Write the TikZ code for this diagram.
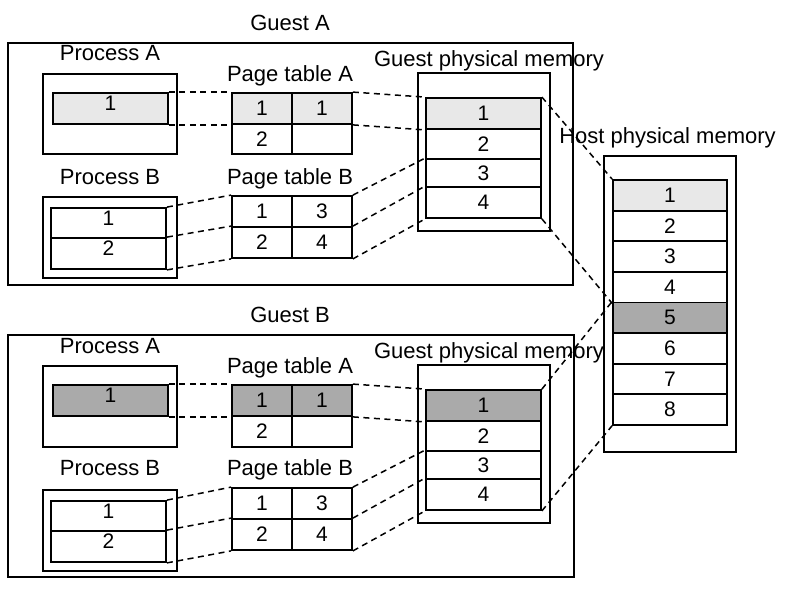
\documentclass[tikz,border=0pt]{standalone}
\usepackage{fontspec}
\setmainfont{Liberation Sans}
\usepackage{xcolor}
\usepackage{tikz}

\definecolor{pagelight}{HTML}{E8E8E8}
\definecolor{pagedark}{HTML}{AAAAAA}

\begin{document}
\begin{tikzpicture}[x=1pt,y=1pt,yscale=-1,xscale=1,
  title/.style={font=\fontsize{22}{26}\selectfont, inner sep=0.75pt, anchor=base},
  frame/.style={draw, line width=1.8pt, inner sep=0pt},
  cell/.style={draw, line width=1.8pt, inner sep=0pt, font=\fontsize{21}{24}\selectfont},
  pcell/.style={cell, text depth=10pt},
  map/.style={dash pattern={on 6pt off 4.5pt}, line width=1.5pt}]
\useasboundingbox (0,0) rectangle (791,604);

%% ---------- Guest A ----------
\node[frame, minimum width=565, minimum height=242] (guestA) at (290.5,164) {};
\node[title] (guestAlbl) at (290,31) {Guest A};

% Process A
\node[title] (pAAlbl) at (110,61) {Process A};
\node[frame, minimum width=134, minimum height=80] (pAA) at (110,114) {};
\node[pcell, fill=pagelight, minimum width=115, minimum height=31] (pAA1) at (110.5,108.5) {1};

% Page table A
\node[title] (ptAAlbl) at (290,82) {Page table A};
\node[cell, fill=pagelight, minimum width=60, minimum height=31] (ptAA1l) at (262,108.5) {1};
\node[cell, fill=pagelight, minimum width=60, minimum height=31] (ptAA1r) at (322,108.5) {1};
\node[cell, minimum width=60, minimum height=30] (ptAA2l) at (262,139) {2};
\node[cell, minimum width=60, minimum height=30] (ptAA2r) at (322,139) {};

% Process B
\node[title] (pABlbl) at (110,184) {Process B};
\node[frame, minimum width=134, minimum height=81] (pAB) at (110,237.5) {};
\node[pcell, minimum width=115, minimum height=30] (pAB1) at (108.5,223) {1};
\node[pcell, minimum width=115, minimum height=31] (pAB2) at (108.5,253.5) {2};

% Page table B
\node[title] (ptABlbl) at (290,184) {Page table B};
\node[cell, minimum width=60, minimum height=31] (ptAB1l) at (262,211.5) {1};
\node[cell, minimum width=60, minimum height=31] (ptAB1r) at (322,211.5) {3};
\node[cell, minimum width=60, minimum height=31] (ptAB2l) at (262,242.5) {2};
\node[cell, minimum width=60, minimum height=31] (ptAB2r) at (322,242.5) {4};

% Guest physical memory
\node[title] (gmAlbl) at (489,67) {Guest physical memory};
\node[frame, minimum width=132, minimum height=158] (gmA) at (484,152) {};
\node[cell, fill=pagelight, minimum width=115, minimum height=31] (gmA1) at (483.5,113.5) {1};
\node[cell, minimum width=115, minimum height=30] (gmA2) at (483.5,144) {2};
\node[cell, minimum width=115, minimum height=28] (gmA3) at (483.5,173) {3};
\node[cell, minimum width=115, minimum height=31] (gmA4) at (483.5,202.5) {4};

%% ---------- Guest B ----------
\node[frame, minimum width=566, minimum height=242] (guestB) at (291,456) {};
\node[title] (guestBlbl) at (290,322) {Guest B};

% Process A
\node[title] (pBAlbl) at (110,353) {Process A};
\node[frame, minimum width=134, minimum height=81] (pBA) at (110,406.5) {};
\node[pcell, fill=pagedark, minimum width=115, minimum height=31] (pBA1) at (110.5,400.5) {1};

% Page table A
\node[title] (ptBAlbl) at (290,373) {Page table A};
\node[cell, fill=pagedark, minimum width=60, minimum height=31] (ptBA1l) at (262,400.5) {1};
\node[cell, fill=pagedark, minimum width=60, minimum height=31] (ptBA1r) at (322,400.5) {1};
\node[cell, minimum width=60, minimum height=31] (ptBA2l) at (262,431.5) {2};
\node[cell, minimum width=60, minimum height=31] (ptBA2r) at (322,431.5) {};

% Process B
\node[title] (pBBlbl) at (110,475) {Process B};
\node[frame, minimum width=134, minimum height=81] (pBB) at (110,530.5) {};
\node[pcell, minimum width=115, minimum height=30] (pBB1) at (108.5,516) {1};
\node[pcell, minimum width=115, minimum height=31] (pBB2) at (108.5,546.5) {2};

% Page table B
\node[title] (ptBBlbl) at (290,475) {Page table B};
\node[cell, minimum width=60, minimum height=31] (ptBB1l) at (262,503.5) {1};
\node[cell, minimum width=60, minimum height=31] (ptBB1r) at (322,503.5) {3};
\node[cell, minimum width=60, minimum height=31] (ptBB2l) at (262,534.5) {2};
\node[cell, minimum width=60, minimum height=31] (ptBB2r) at (322,534.5) {4};

% Guest physical memory
\node[title] (gmBlbl) at (489,358) {Guest physical memory};
\node[frame, minimum width=132, minimum height=158] (gmB) at (484,444) {};
\node[cell, fill=pagedark, minimum width=115, minimum height=31] (gmB1) at (483.5,405.5) {1};
\node[cell, minimum width=115, minimum height=30] (gmB2) at (483.5,436) {2};
\node[cell, minimum width=115, minimum height=28] (gmB3) at (483.5,465) {3};
\node[cell, minimum width=115, minimum height=31] (gmB4) at (483.5,494.5) {4};

%% ---------- Host ----------
\node[frame, minimum width=132, minimum height=296] (host) at (670,304) {};
\foreach \i/\c in {1/pagelight,2/white,3/white,4/white,5/pagedark,6/white,7/white,8/white}
  \node[cell, fill=\c, minimum width=114, minimum height=30.6] (host\i) at (670,{164.7+\i*30.6}) {\i};
\node[title] (hostlbl) at (667.5,143) {Host physical memory};

%% ---------- mappings ----------
\draw[map] (pAA1.north east) -- (ptAA1l.north west);
\draw[map] (pAA1.south east) -- (ptAA1l.south west);
\draw[map] (ptAA1r.north east) -- (gmA1.north west);
\draw[map] (ptAA1r.south east) -- (gmA1.south west);
\draw[map] (pAB1.north east) -- (ptAB1l.north west);
\draw[map] (pAB2.north east) -- (ptAB2l.north west);
\draw[map] (pAB2.south east) -- (ptAB2l.south west);
\draw[map] (ptAB1r.north east) -- (gmA3.north west);
\draw[map] (ptAB2r.north east) -- (gmA4.north west);
\draw[map] (ptAB2r.south east) -- (gmA4.south west);
\draw[map] (gmA1.north east) -- (host1.north west);
\draw[map] (gmA4.south east) -- (host4.south west);

\draw[map] (pBA1.north east) -- (ptBA1l.north west);
\draw[map] (pBA1.south east) -- (ptBA1l.south west);
\draw[map] (ptBA1r.north east) -- (gmB1.north west);
\draw[map] (ptBA1r.south east) -- (gmB1.south west);
\draw[map] (pBB1.north east) -- (ptBB1l.north west);
\draw[map] (pBB2.north east) -- (ptBB2l.north west);
\draw[map] (pBB2.south east) -- (ptBB2l.south west);
\draw[map] (ptBB1r.north east) -- (gmB3.north west);
\draw[map] (ptBB2r.north east) -- (gmB4.north west);
\draw[map] (ptBB2r.south east) -- (gmB4.south west);
\draw[map] (gmB1.north east) -- (host5.north west);
\draw[map] (gmB4.south east) -- (host8.south west);

\end{tikzpicture}
\end{document}
